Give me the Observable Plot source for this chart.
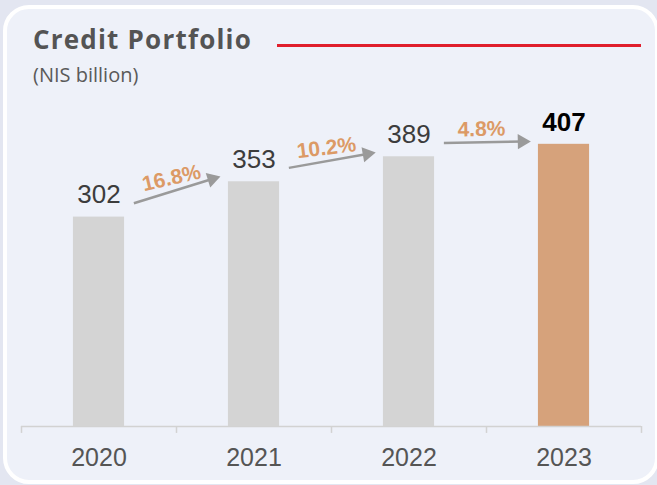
<!DOCTYPE html>
<html>
<head>
<meta charset="utf-8">
<script src="https://cdn.jsdelivr.net/npm/d3@7"></script>
<script src="https://cdn.jsdelivr.net/npm/@observablehq/plot@0.6"></script>
<style>
  html, body { margin: 0; padding: 0; }
  body { width: 657px; height: 485px; background: #e3e6f1; position: relative; overflow: hidden; }
  #card { position: absolute; left: 3px; top: 5px; width: 656px; height: 479px; box-sizing: border-box;
          border: 4px solid #ffffff; border-radius: 26px; background: #eef1f9; }
  #title { position: absolute; left: 33px; top: 26px; font-family: "Open Sans", sans-serif; font-weight: 700;
           font-size: 26px; letter-spacing: 1.2px; line-height: 1; color: #545454; white-space: nowrap; }
  #redline { position: absolute; left: 277px; top: 44px; width: 364px; height: 3px; background: #e01f2d; }
  #subtitle { position: absolute; left: 33px; top: 65px; font-family: "Open Sans", sans-serif; font-weight: 400;
              font-size: 20px; line-height: 1; color: #5a5a5a; white-space: nowrap; }
  #chart { position: absolute; left: 0; top: 0; }
</style>
</head>
<body>
<div id="card"></div>
<div id="title">Credit Portfolio</div>
<div id="redline"></div>
<div id="subtitle">(NIS billion)</div>
<div id="chart"></div>
<script>
const years = ["2020", "2021", "2022", "2023"];
const values = [302, 353, 389, 407];
const growthLabels = ["16.8%", "10.2%", "4.8%"];

const W = 657, H = 485, mL = 21, mR = 16, mT = 114, mB = 59;
const xDomain = [-0.5, 3.5], yDomain = [0, 450];
const kx = (W - mL - mR) / (xDomain[1] - xDomain[0]);
const ky = (H - mT - mB) / (yDomain[1] - yDomain[0]);

const bars = years.map((year, i) => ({i, year, value: values[i], last: i === years.length - 1}));
const arrows = growthLabels.map((label, i) => {
  const a = {i, label, x1: i + 0.225, y1: values[i] + 20, x2: i + 1 - 0.27, y2: values[i + 1] + 4};
  a.angle = Math.atan2(-(a.y2 - a.y1) * ky, (a.x2 - a.x1) * kx) * 180 / Math.PI;
  return a;
});
const tilt = [-13, -7, -1];

const plot = Plot.plot({
  width: W,
  height: H,
  marginLeft: mL,
  marginRight: mR,
  marginTop: mT,
  marginBottom: mB,
  style: {background: "transparent", color: "#555555", fontFamily: "'Liberation Sans', Arial, sans-serif", overflow: "visible"},
  x: {type: "linear", domain: xDomain},
  y: {domain: yDomain, axis: null},
  marks: [
    Plot.rectY(bars, {x1: d => d.i - 0.165, x2: d => d.i + 0.165, y: "value",
      fill: d => d.last ? "#d6a27b" : "#d4d4d4"}),
    Plot.ruleY([0], {stroke: "#d2d2d2", strokeWidth: 1.5}),
    Plot.ruleX([-0.5, 0.5, 1.5, 2.5, 3.5], {y1: 0, y2: -10, stroke: "#d2d2d2", strokeWidth: 1.5}),
    Plot.axisX({ticks: [0, 1, 2, 3], tickFormat: i => years[i], tickSize: 0, tickPadding: 22,
      fontSize: 25, fill: "#555555", label: null}),
    Plot.text(bars.filter(d => !d.last), {x: "i", y: "value", text: d => String(d.value), dy: -22,
      lineAnchor: "middle", fontSize: 26, fill: "#3c3c3c"}),
    Plot.text(bars.filter(d => d.last), {x: "i", y: "value", text: d => String(d.value), dy: -22,
      lineAnchor: "middle", fontSize: 26, fontWeight: "bold", fill: "#000000"}),
    Plot.link(arrows, {x1: "x1", y1: "y1", x2: "x2", y2: "y2", stroke: "#9a9a9a", strokeWidth: 2.5}),
    Plot.dot(arrows, {x: "x2", y: "y2", symbol: "triangle", r: 5.6, fill: "#9a9a9a", stroke: "none",
      rotate: d => 90 + d.angle}),
    Plot.text(arrows, {x: d => (d.x1 + d.x2) / 2 - 0.01, y: d => (d.y1 + d.y2) / 2, dy: -13,
      text: "label", rotate: d => tilt[d.i], lineAnchor: "middle", fontSize: 21, fontWeight: "bold", fill: "#dc9a66"})
  ]
});
document.getElementById("chart").appendChild(plot);
</script>
</body>
</html>
